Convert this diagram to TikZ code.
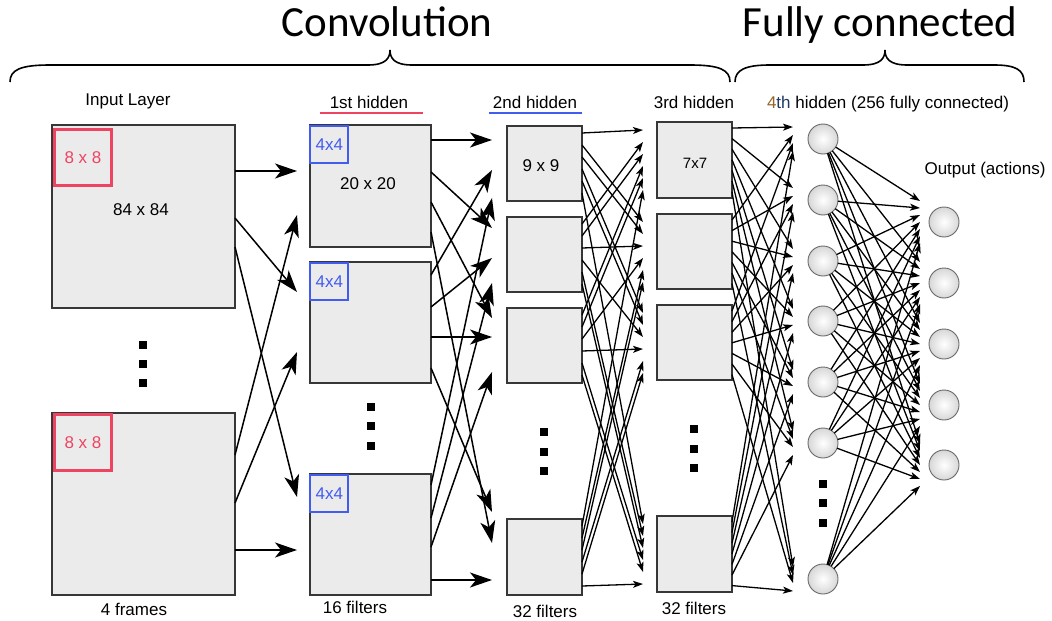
\documentclass[tikz,border=0pt]{standalone}
\usepackage{fontspec}
\setmainfont{Liberation Sans}
\newfontfamily\titlefont{Carlito}
\usetikzlibrary{arrows.meta,calc}
\definecolor{boxfill}{RGB}{235,235,235}
\definecolor{boxline}{RGB}{55,55,55}
\definecolor{kred}{RGB}{238,68,98}
\definecolor{kblue}{RGB}{66,92,240}
\definecolor{fourcol}{RGB}{150,100,40}
\definecolor{thcol}{RGB}{30,55,100}
\definecolor{nline}{RGB}{105,105,105}
\definecolor{nedge}{RGB}{215,215,215}
\newcommand\lbls{\fontsize{17}{20}\selectfont}
\begin{document}
\begin{tikzpicture}[x=1pt,y=-1pt,
  fmap/.style={draw=boxline,fill=boxfill,line width=1.1pt,inner sep=0,outer sep=0,anchor=north west},
  kern8/.style={draw=kred,line width=2.2pt,inner sep=0,outer sep=0,anchor=north west,minimum width=57pt,minimum height=56pt,text=kred,font=\lbls},
  kern4/.style={draw=kblue,line width=2pt,inner sep=0,outer sep=0,anchor=north west,minimum width=38pt,minimum height=37pt,text=kblue,font=\lbls},
  lbl/.style={font=\lbls,inner sep=0,anchor=base},
  inlbl/.style={font=\lbls,inner sep=0},
  title/.style={font=\titlefont\fontsize{43}{50}\selectfont,inner sep=0,anchor=base},
  dotsq/.style={fill=black,minimum size=8pt,inner sep=0},
  neuron/.style={circle,minimum size=30pt,inner sep=0,outer sep=0,draw=nline,line width=0.9pt,inner color=white,outer color=nedge},
  big/.style={line width=1.5pt,-{Stealth[length=22pt,width=15pt,inset=6pt]}},
  mid/.style={line width=1.3pt,-{Stealth[length=10pt,width=7pt,inset=2.5pt]}},
  brace/.style={line width=1.6pt},
  uline/.style={line width=2.5pt}]
\useasboundingbox (0,0) rectangle (1052,621);
\fill[white] (0,0) rectangle (1052,621);

% titles and braces
\node[title] (tconv) at (387,36) {Convolution};
\node[title] (tfc) at (880,36) {Fully connected};
\draw[brace] (10,82) .. controls (10,70) and (20,65) .. (50,65) -- (368,65)
  .. controls (386,65) and (390,58) .. (390,50)
  .. controls (390,58) and (394,65) .. (412,65) -- (690,65)
  .. controls (720,65) and (730,70) .. (730,82);
\draw[brace] (735,82) .. controls (735,70) and (745,65) .. (770,65) -- (863,65)
  .. controls (881,65) and (885,58) .. (885,50)
  .. controls (885,58) and (889,65) .. (907,65) -- (994,65)
  .. controls (1016,65) and (1024,70) .. (1024,82);

% labels
\node[lbl] (linput) at (128,105) {Input Layer};
\node[lbl] (l1h) at (369,108) {1st hidden};
\node[lbl] (l2h) at (535,108) {2nd hidden};
\node[lbl] (l3h) at (694,108) {3rd hidden};
\node[lbl] (l4h) at (888,108) {\textcolor{fourcol}{4}\textcolor{thcol}{th} hidden (256 fully connected)};
\node[lbl] (lout) at (985,174) {Output (actions)};
\node[lbl] (lf4) at (134,615) {4 frames};
\node[lbl] (lf16) at (355,613) {16 filters};
\node[lbl] (lf32a) at (545,617) {32 filters};
\node[lbl] (lf32b) at (694,614) {32 filters};
\draw[uline,kred] (320,113) -- (423,113);
\draw[uline,kblue] (489,113) -- (582,113);

% input layer
\node[fmap,minimum width=183pt,minimum height=183pt] (in1) at (52,125) {};
\node[fmap,minimum width=183pt,minimum height=182pt] (in2) at (52,413) {};
\node[kern8] (r1) at (54.5,129.5) {8 x 8};
\node[kern8] (r2) at (54.5,414.5) {8 x 8};
\node[inlbl] (t84) at (141,210) {84 x 84};
\node[dotsq] (di1) at (143,345) {};
\node[dotsq] (di2) at (143,364) {};
\node[dotsq] (di3) at (143,383) {};

% 1st hidden
\node[fmap,minimum width=121pt,minimum height=122pt] (h1a) at (310,125) {};
\node[fmap,minimum width=121pt,minimum height=121pt] (h1b) at (310,262) {};
\node[fmap,minimum width=121pt,minimum height=121pt] (h1c) at (310,474) {};
\node[kern4] (b1) at (310.3,126) {4x4};
\node[kern4] (b2) at (310.3,262.7) {4x4};
\node[kern4] (b3) at (310.3,475) {4x4};
\node[inlbl] (t20) at (368,184) {20 x 20};
\node[dotsq] (d1a) at (371,407) {};
\node[dotsq] (d1b) at (371,426) {};
\node[dotsq] (d1c) at (371,446) {};

% 2nd hidden
\node[fmap,minimum width=75pt,minimum height=75pt] (h2a) at (507,126) {};
\node[fmap,minimum width=75pt,minimum height=75pt] (h2b) at (507,217) {};
\node[fmap,minimum width=75pt,minimum height=75pt] (h2c) at (507,308) {};
\node[fmap,minimum width=75pt,minimum height=76pt] (h2d) at (507,519) {};
\node[inlbl] (t9) at (541,166) {9 x 9};
\node[dotsq] (d2a) at (544,432) {};
\node[dotsq] (d2b) at (544,452) {};
\node[dotsq] (d2c) at (544,471) {};

% 3rd hidden
\node[fmap,minimum width=75pt,minimum height=76pt] (h3a) at (657,122) {};
\node[fmap,minimum width=75pt,minimum height=75pt] (h3b) at (657,214) {};
\node[fmap,minimum width=75pt,minimum height=75pt] (h3c) at (657,305) {};
\node[fmap,minimum width=75pt,minimum height=76pt] (h3d) at (657,516) {};
\node[inlbl,font=\fontsize{15}{18}\selectfont] (t7) at (695,163) {7x7};
\node[dotsq] (d3a) at (694,429) {};
\node[dotsq] (d3b) at (694,449) {};
\node[dotsq] (d3c) at (694,468) {};

% 4th hidden
\node[neuron] (n1) at (823,139) {};
\node[neuron] (n2) at (823,200) {};
\node[neuron] (n3) at (823,261) {};
\node[neuron] (n4) at (823,321) {};
\node[neuron] (n5) at (823,382) {};
\node[neuron] (n6) at (823,443) {};
\node[neuron] (n7) at (823,579) {};
\node[dotsq] (d4a) at (823,484) {};
\node[dotsq] (d4b) at (823,503) {};
\node[dotsq] (d4c) at (823,523) {};

% output
\node[neuron] (o1) at (944,222) {};
\node[neuron] (o2) at (944,283) {};
\node[neuron] (o3) at (944,344) {};
\node[neuron] (o4) at (944,405) {};
\node[neuron] (o5) at (944,465) {};

% input -> 1st hidden
\foreach \src/\ys/\yt in {in1/171/171, in1/218/292, in1/247/497,
                          in2/455/215, in2/503/352, in2/550/550}
  \draw[big] (\src.east |- 0,\ys) -- ([xshift=-13pt]h1a.west |- 0,\yt);

% 1st -> 2nd hidden
\foreach \src/\ys/\yt in {h1a/140/140, h1a/172/228, h1a/202/318, h1a/232/543,
                          h1b/275/170, h1b/307/258, h1b/337/337, h1b/368/512,
                          h1c/485/198, h1c/518/283, h1c/547/372, h1c/580/580}
  \draw[big] (\src.east |- 0,\ys) -- ([xshift=-15pt]h2a.west |- 0,\yt);

% 2nd -> 3rd hidden
\foreach \src/\ys/\yt in {h2a/133/130, h2a/145/222, h2a/157/234, h2a/169/313, h2a/181/325, h2a/193/524,
                          h2b/224/142, h2b/236/154, h2b/248/246, h2b/260/337, h2b/272/536, h2b/284/548,
                          h2c/315/166, h2c/327/178, h2c/339/258, h2c/351/349, h2c/363/560, h2c/375/572,
                          h2d/526/190, h2d/538/270, h2d/550/282, h2d/562/361, h2d/574/373, h2d/586/584}
  \draw[mid] (\src.east |- 0,\ys) -- ([xshift=-14pt]h3a.west |- 0,\yt);

% 3rd -> 4th hidden
\foreach \src [count=\i from 0] in {h3a,h3b,h3c,h3d}
  \foreach \tgt [count=\c from 0] in {n1,n2,n3,n4,n5,n6,n7}
    \draw[mid] ($(\src.north east)+(0,{6+10.6*\c})$) -- ($(\tgt.west)+(-15,{-12+8*\i})$);

% 4th -> output
\foreach \h [count=\c from 0] in {n1,n2,n3,n4,n5,n6,n7}
  \foreach \o in {o1,o2,o3,o4,o5}
    \draw[mid] (\h) -- ($(\o.west)+(-9,{(\c-3)*7})$);
\end{tikzpicture}
\end{document}
